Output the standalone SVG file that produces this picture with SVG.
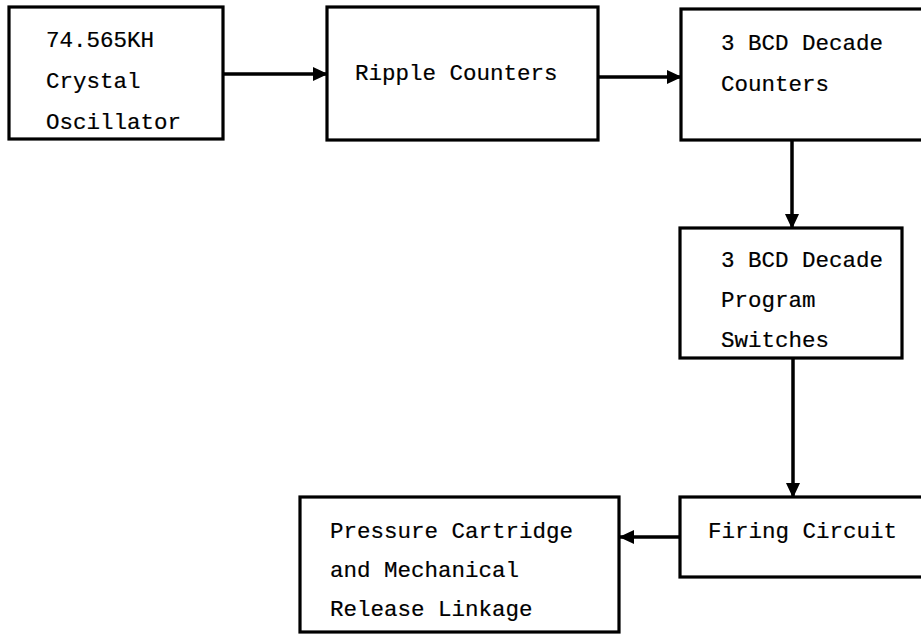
<svg xmlns="http://www.w3.org/2000/svg" width="921" height="634" viewBox="0 0 921 634">
  <defs>
    <marker id="ah" viewBox="0 0 15 14" refX="14" refY="7" markerWidth="15" markerHeight="14" markerUnits="userSpaceOnUse" orient="auto">
      <path d="M0,0 L15,7 L0,14 Z" fill="#000"/>
    </marker>
    <style>
      .box { fill: #fff; stroke: #000; stroke-width: 3.2; }
      .t { font-family: "Liberation Mono", "Courier New", monospace; font-size: 22.5px; fill: #000; stroke: #000; stroke-width: 0.2; }
      .c { fill: none; stroke: #000; stroke-width: 3.5; marker-end: url(#ah); }
    </style>
  </defs>
  <rect width="921" height="634" fill="#fff"/>
  <g id="connectors">
    <line class="c" x1="223" y1="74" x2="327" y2="74"/>
    <line class="c" x1="598" y1="77" x2="681" y2="77"/>
    <line class="c" x1="792" y1="140" x2="792" y2="228"/>
    <line class="c" x1="793" y1="358" x2="793" y2="497"/>
    <line class="c" x1="680" y1="537" x2="620" y2="537"/>
  </g>
  <g id="osc">
    <rect class="box" x="9" y="7" width="214" height="132"/>
    <text class="t" x="46" y="47">74.565KH</text>
    <text class="t" x="46" y="88">Crystal</text>
    <text class="t" x="46" y="129">Oscillator</text>
  </g>
  <g id="ripple">
    <rect class="box" x="327" y="7" width="271" height="133"/>
    <text class="t" x="355" y="80">Ripple Counters</text>
  </g>
  <g id="bcd-counters">
    <rect class="box" x="681" y="9" width="250" height="131"/>
    <text class="t" x="721" y="50">3 BCD Decade</text>
    <text class="t" x="721" y="91">Counters</text>
  </g>
  <g id="bcd-switches">
    <rect class="box" x="680" y="228" width="222" height="130"/>
    <text class="t" x="721" y="267">3 BCD Decade</text>
    <text class="t" x="721" y="307">Program</text>
    <text class="t" x="721" y="347">Switches</text>
  </g>
  <g id="firing">
    <rect class="box" x="680" y="497" width="250" height="80"/>
    <text class="t" x="708" y="538">Firing Circuit</text>
  </g>
  <g id="pressure">
    <rect class="box" x="300" y="497" width="319" height="135"/>
    <text class="t" x="330" y="538">Pressure Cartridge</text>
    <text class="t" x="330" y="577">and Mechanical</text>
    <text class="t" x="330" y="616">Release Linkage</text>
  </g>
</svg>
